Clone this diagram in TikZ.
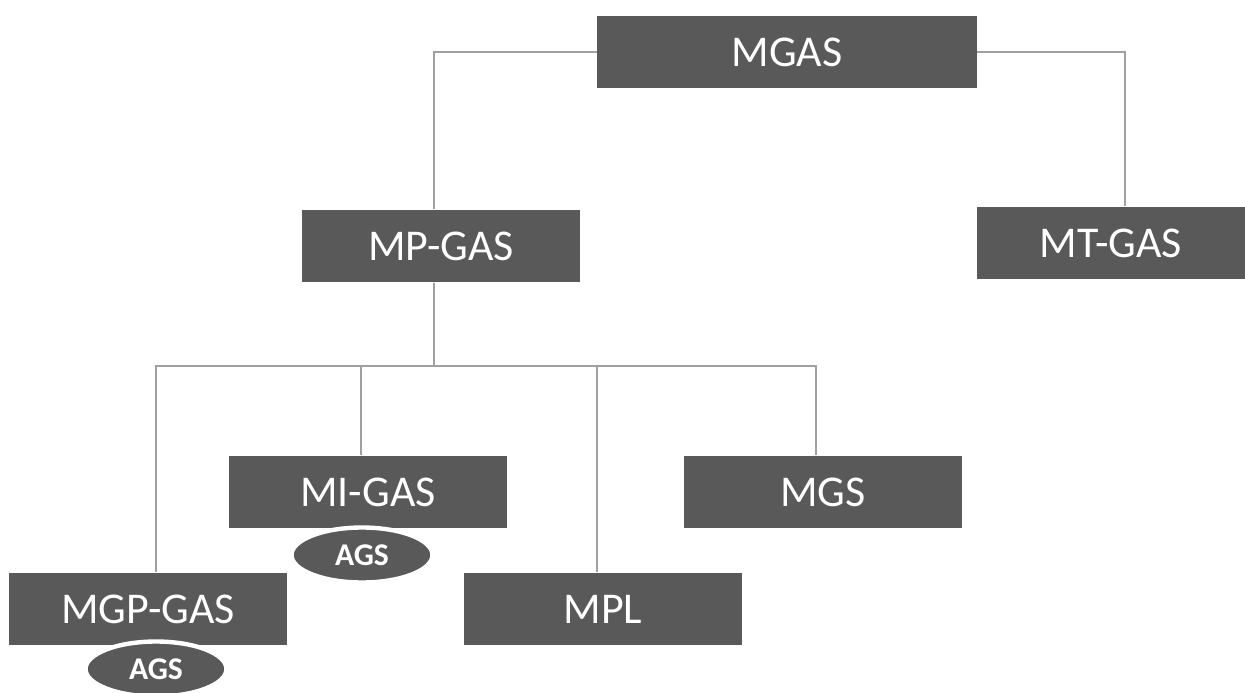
\documentclass[tikz,border=0pt]{standalone}
\usepackage{fontspec}
\setmainfont{Carlito}
\usetikzlibrary{shapes.geometric}
\usetikzlibrary{positioning}

\definecolor{boxgray}{HTML}{595959}
\definecolor{linegray}{HTML}{A0A0A0}

\begin{document}
\begin{tikzpicture}[x=0.02cm, y=-0.02cm]
    \tikzset{
      unit/.style={fill=boxgray, text=white, minimum width=5.56cm,
        minimum height=1.46cm, inner sep=0pt, font=\fontsize{25}{30}\selectfont},
      tag/.style={ellipse, fill=boxgray, draw=white, line width=2.5pt,
        text=white, minimum width=2.82cm, minimum height=1.1cm, inner sep=0pt,
        font=\bfseries\fontsize{18}{21}\selectfont},
      link/.style={draw=linegray, line width=1.1pt},
    }
    \useasboundingbox (0,0) rectangle (1245,693);

    \node[unit, minimum width=7.6cm] (mgas) at (787,52) {MGAS};
    \node[unit] (mpgas) at (441,246) {MP-GAS};
    \node[unit, minimum width=5.36cm] (mtgas) at (1111,243) {MT-GAS};
    \node[unit] (migas) at (368,492) {MI-GAS};
    \node[unit] (mgs) at (823,492) {MGS};
    \node[unit] (mgpgas) at (148,609) {MGP-GAS};
    \node[unit] (mpl) at (603,609) {MPL};

    \node[tag] (ags1) at (362,555) {AGS};
    \node[tag] (ags2) at (156,669) {AGS};

    \coordinate (bus) at (434,366);

    \draw[link] (mgas.west) -| ([xshift=-0.14cm]mpgas.north);
    \draw[link] (mgas.east) -| ([xshift=0.28cm]mtgas.north);
    \draw[link] ([xshift=-0.14cm]mpgas.south) -- (bus);
    \draw[link] ([xshift=0.16cm]mgpgas.north) |- (bus) -| ([xshift=-0.14cm]mgs.north);
    \draw[link] ([xshift=-0.14cm]migas.north |- bus) -- ([xshift=-0.14cm]migas.north);
    \draw[link] ([xshift=-0.12cm]mpl.north |- bus) -- ([xshift=-0.12cm]mpl.north);
  \end{tikzpicture}
\end{document}
